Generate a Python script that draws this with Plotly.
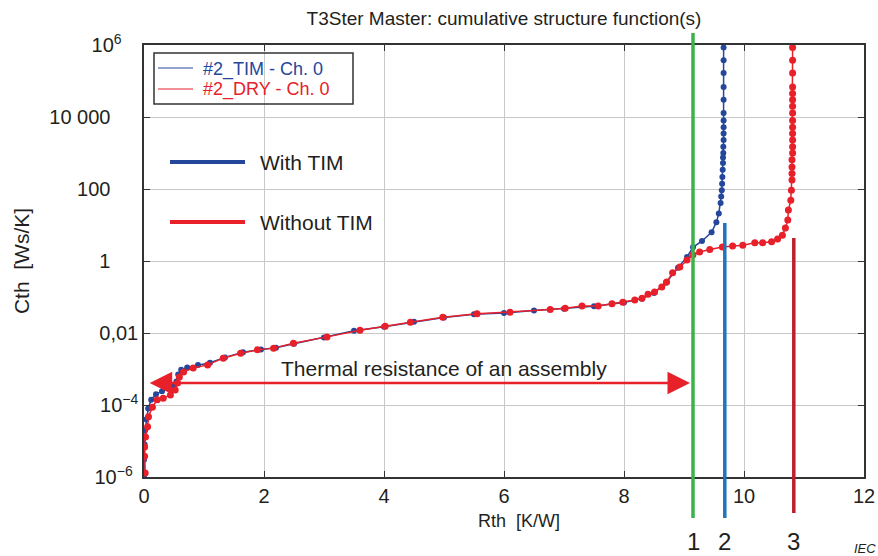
import math
import plotly.graph_objects as go

# ---------------- data ----------------
rth_tim = [0.0, 0.0, 0.01, 0.02, 0.04, 0.07, 0.12, 0.20, 0.30, 0.42, 0.50, 0.54, 0.57,
           0.62, 0.72, 0.90, 1.10, 1.35, 1.65, 1.95, 2.20, 2.50, 3.00, 3.50, 4.00, 4.50,
           5.00, 5.50, 6.00, 6.50, 7.00, 7.50, 8.00, 8.30, 8.50, 8.70, 8.90, 9.05, 9.15,
           9.30, 9.46, 9.54, 9.58, 9.61, 9.62, 9.63, 9.635, 9.64, 9.645, 9.65, 9.65, 9.655,
           9.655, 9.66, 9.66, 9.66, 9.66, 9.66, 9.66, 9.66, 9.66, 9.66, 9.66]
cth_tim = [1.1e-6, 3e-6, 8e-6, 2e-5, 4e-5, 8e-5, 1.4e-4, 2.0e-4, 2.4e-4, 2.8e-4, 3.3e-4,
           4.5e-4, 7e-4, 9.5e-4, 1.1e-3, 1.3e-3, 1.5e-3, 2.1e-3, 2.9e-3, 3.5e-3, 3.9e-3,
           5.0e-3, 7.5e-3, 1.15e-2, 1.5e-2, 2.05e-2, 2.7e-2, 3.3e-2, 3.6e-2, 4.2e-2, 4.7e-2,
           5.5e-2, 7.0e-2, 9.0e-2, 0.13, 0.25, 0.65, 1.3, 2.4, 3.6, 6.3, 12, 21, 41, 62, 93,
           140, 214, 340, 525, 750, 1000, 1500, 2300, 3500, 5200, 8000, 1.3e4, 3.0e4, 6.8e4,
           1.66e5, 3.8e5, 8.5e5]

rth_dry = [0.02, 0.01, 0.01, 0.025, 0.06, 0.075, 0.14, 0.22, 0.32, 0.44, 0.52, 0.56, 0.59,
           0.66, 0.82, 1.06, 1.32, 1.61, 1.89, 2.16, 2.49, 3.05, 3.60, 4.02, 4.44, 4.98,
           5.55, 6.10, 6.77, 7.02, 7.30, 7.57, 7.80, 7.98, 8.18, 8.30, 8.40, 8.51, 8.63,
           8.71, 8.81, 8.93, 9.05, 9.15, 9.26, 9.43, 9.64, 9.81, 9.98, 10.18, 10.31, 10.46,
           10.56, 10.64, 10.69, 10.73, 10.74, 10.78, 10.79, 10.80, 10.80, 10.80, 10.80,
           10.81, 10.81, 10.81, 10.81, 10.81, 10.81, 10.81, 10.81, 10.81, 10.81, 10.81,
           10.81, 10.81, 10.81]
cth_dry = [1.3e-6, 3.8e-6, 6.8e-6, 1.3e-5, 2.5e-5, 4.7e-5, 8.7e-5, 1.4e-4, 1.55e-4, 1.9e-4,
           2.6e-4, 4.1e-4, 6.0e-4, 8.3e-4, 1.07e-3, 1.3e-3, 2.0e-3, 2.75e-3, 3.4e-3, 3.8e-3,
           5.2e-3, 7.8e-3, 1.2e-2, 1.55e-2, 2.0e-2, 2.75e-2, 3.4e-2, 3.8e-2, 4.5e-2, 4.9e-2,
           5.6e-2, 5.6e-2, 6.5e-2, 7.2e-2, 8.3e-2, 9.3e-2, 0.12, 0.138, 0.19, 0.26, 0.47,
           0.68, 1.07, 1.48, 1.78, 2.1, 2.45, 2.6, 2.75, 3.2, 3.2, 3.4, 4.1, 5.2, 8.3, 13.8,
           26, 49, 93, 178, 270, 410, 650, 1000, 1500, 2300, 3500, 5200, 8000, 1.3e4, 2.0e4,
           3.0e4, 4.5e4, 6.8e4, 1.66e5, 3.8e5, 8.5e5]

x_ticks = [0, 2, 4, 6, 8, 10, 12]
y_tickvals = [1e-6, 1e-4, 1e-2, 1, 100, 1e4, 1e6]
y_ticktext = ["10<sup>−6</sup>", "10<sup>−4</sup>", "0,01", "1", "100", "10 000", "10<sup>6</sup>"]

marker_rth = [9.15, 9.68, 10.83]          # vertical reference lines 1, 2, 3
marker_labels = ["1", "2", "3"]

legend_names = ["#2_TIM - Ch. 0", "#2_DRY - Ch. 0"]
key_names = ["With TIM", "Without TIM"]

# ---------------- style ----------------
BLUE = "#24479b"
RED = "#e8202a"
GREEN = "#3bb34a"
LBLUE = "#1f74bb"
DRED = "#be1e2d"
TXT = "#231f20"
FONT = "Liberation Sans, Arial, sans-serif"

# right padding (in no-break spaces) of the y tick labels, to mimic the reference layout
y_label_pad = [1, 0, 0, 5, 5, 5, 3]

W, H = 878, 556
ML, MR, MT, MB = 144, 14, 45, 79
PW, PH = W - ML - MR, H - MT - MB


def px_x(p):
    return (p - ML) / PW


def px_y(p):
    return (H - MB - p) / PH


fig = go.Figure()

fig.add_trace(go.Scatter(x=rth_tim, y=cth_tim, mode="lines+markers", showlegend=False,
                         name=legend_names[0],
                         line=dict(color=BLUE, width=1.5),
                         marker=dict(color=BLUE, size=6)))
fig.add_trace(go.Scatter(x=rth_dry, y=cth_dry, mode="lines+markers", showlegend=False,
                         name=legend_names[1],
                         line=dict(color=RED, width=1.5),
                         marker=dict(color=RED, size=7)))

shapes = []
line_cols = [GREEN, LBLUE, DRED]
tops = [px_y(33), px_y(223), px_y(238)]
bots = [px_y(518), px_y(518), px_y(513)]
for xv, c, t, b in zip(marker_rth, line_cols, tops, bots):
    shapes.append(dict(type="line", xref="x", yref="paper", x0=xv, x1=xv, y0=b, y1=t,
                       line=dict(color=c, width=3.5)))

# legend box (transparent, grid shows through)
shapes.append(dict(type="rect", xref="paper", yref="paper", x0=px_x(154), x1=px_x(353),
                   y0=px_y(104), y1=px_y(53), line=dict(color="#333333", width=1.5),
                   fillcolor="rgba(0,0,0,0)"))
annotations = []
for name, col, yy in zip(legend_names, [BLUE, RED], [68, 89]):
    shapes.append(dict(type="line", xref="paper", yref="paper", x0=px_x(158), x1=px_x(193),
                       y0=px_y(yy), y1=px_y(yy), line=dict(color=col, width=1)))
    annotations.append(dict(xref="paper", yref="paper", x=px_x(201), y=px_y(yy + 1),
                            text=name, showarrow=False, xanchor="left", yanchor="middle",
                            font=dict(size=18, color=col)))

# "With TIM" / "Without TIM" keys
for name, col, yy in zip(key_names, [BLUE, RED], [162, 222]):
    shapes.append(dict(type="line", xref="paper", yref="paper", x0=px_x(170), x1=px_x(245),
                       y0=px_y(yy), y1=px_y(yy), line=dict(color=col, width=4)))
    annotations.append(dict(xref="paper", yref="paper", x=px_x(258), y=px_y(yy), text=name,
                            showarrow=False, xanchor="left", yanchor="middle",
                            font=dict(size=21, color=TXT)))

annotations += [
    dict(xref="x", yref="y", x=9.1, y=math.log10(4.1e-4), ax=0.07, ay=math.log10(4.1e-4),
         axref="x", ayref="y", text="", showarrow=True, arrowside="end+start",
         arrowhead=2, arrowsize=1.8, arrowwidth=2.5, arrowcolor=RED, standoff=0,
         startstandoff=0),
    dict(xref="x", yref="paper", x=5.0, y=px_y(368), text="Thermal resistance of an assembly",
         showarrow=False, xanchor="center", yanchor="middle", font=dict(size=21, color=TXT)),
    dict(xref="paper", yref="paper", x=px_x(519), y=px_y(521), text="Rth  [K/W]",
         showarrow=False, xanchor="center", yanchor="middle", font=dict(size=18, color=TXT)),
    dict(xref="paper", yref="paper", x=1.002, y=px_y(548), text="<i>IEC</i>",
         showarrow=False, xanchor="center", yanchor="middle", font=dict(size=13, color=TXT)),
]
for xv, lab in zip(marker_rth, marker_labels):
    annotations.append(dict(xref="x", yref="paper", x=xv, y=px_y(541), text=lab,
                            showarrow=False, xanchor="center", yanchor="middle",
                            font=dict(size=24, color=TXT)))

fig.update_layout(
    width=W, height=H,
    margin=dict(l=ML, r=MR, t=MT, b=MB, autoexpand=False),
    paper_bgcolor="white", plot_bgcolor="white",
    font=dict(family=FONT, color=TXT, size=20),
    title=dict(text="T3Ster Master: cumulative structure function(s)", x=0.5, xref="paper",
               y=1 - 18 / H, yref="container", xanchor="center", yanchor="middle",
               font=dict(size=19, color=TXT)),
    showlegend=False,
    shapes=shapes,
    annotations=annotations,
)

fig.update_xaxes(range=[0, 12], tickvals=x_ticks, ticks="inside", ticklen=6,
                 tickcolor="#333333", showline=True, linecolor="#333333", linewidth=1.5,
                 mirror="ticks", showgrid=True, gridcolor="#c8c8c8", gridwidth=1,
                 zeroline=False, tickfont=dict(size=20))
fig.update_yaxes(type="log", range=[-6, 6], tickvals=y_tickvals,
                 ticktext=[t + "\u00a0" * p for t, p in zip(y_ticktext, y_label_pad)],
                 ticks="inside", ticklen=6, tickcolor="#333333", showline=True,
                 linecolor="#333333", linewidth=1.5, mirror="ticks", showgrid=True,
                 gridcolor="#c8c8c8", gridwidth=1, zeroline=False, tickfont=dict(size=20),
                 title=dict(text="Cth  [Ws/K]", standoff=14, font=dict(size=21)))

fig.write_html("out.html", config={"displayModeBar": False},
               post_script="document.body.style.margin='0px';")
